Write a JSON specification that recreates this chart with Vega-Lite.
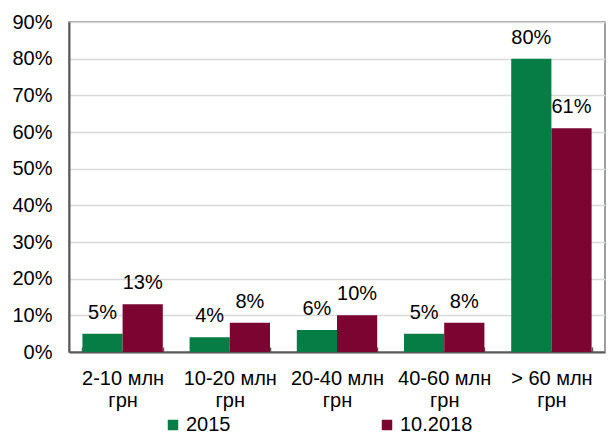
{
  "$schema": "https://vega.github.io/schema/vega-lite/v6.json",
  "width": 536,
  "height": 330,
  "autosize": {"type": "none"},
  "padding": {"left": 69, "top": 22, "right": 10, "bottom": 82},
  "background": "white",
  "config": {
    "font": "Liberation Sans",
    "view": {"stroke": "#7f7f7f", "strokeWidth": 1.5},
    "axis": {"labelFont": "Liberation Sans", "labelFontSize": 20, "labelColor": "#000000"}
  },
  "data": {
    "values": [
      {"cat": "2-10 млн грн", "series": "2015", "value": 0.05},
      {"cat": "2-10 млн грн", "series": "10.2018", "value": 0.13},
      {"cat": "10-20 млн грн", "series": "2015", "value": 0.04},
      {"cat": "10-20 млн грн", "series": "10.2018", "value": 0.08},
      {"cat": "20-40 млн грн", "series": "2015", "value": 0.06},
      {"cat": "20-40 млн грн", "series": "10.2018", "value": 0.10},
      {"cat": "40-60 млн грн", "series": "2015", "value": 0.05},
      {"cat": "40-60 млн грн", "series": "10.2018", "value": 0.08},
      {"cat": "> 60 млн грн", "series": "2015", "value": 0.80},
      {"cat": "> 60 млн грн", "series": "10.2018", "value": 0.61}
    ]
  },
  "encoding": {
    "x": {
      "field": "cat", "type": "nominal", "sort": null,
      "scale": {"paddingInner": 0.25, "paddingOuter": 0.125},
      "axis": {
        "title": null, "labelAngle": 0, "labelPadding": 21, "labelLineHeight": 22,
        "labelExpr": "indexof(datum.label + '', 'млн') >= 0 ? [replace(datum.label, ' грн', ''), 'грн'] : ''",
        "domainColor": "#595959", "domainWidth": 2,
        "tickBand": "extent", "tickSize": -5, "tickColor": "#595959", "tickWidth": 1.5
      }
    },
    "xOffset": {"field": "series", "type": "nominal", "sort": ["2015", "10.2018"], "scale": {"paddingInner": 0, "paddingOuter": 0}},
    "y": {
      "field": "value", "type": "quantitative",
      "scale": {"domain": [0, 0.9], "nice": false},
      "axis": {
        "title": null, "format": ".0%", "values": [0, 0.1, 0.2, 0.3, 0.4, 0.5, 0.6, 0.7, 0.8, 0.9],
        "domainColor": "#595959", "domainWidth": 2,
        "gridColor": "#d9d9d9", "gridWidth": 1.5,
        "ticks": false, "labelPadding": 17
      }
    }
  },
  "layer": [
    {
      "mark": {"type": "bar"},
      "encoding": {
        "color": {
          "field": "series", "type": "nominal", "sort": ["2015", "10.2018"],
          "scale": {"domain": ["2015", "10.2018"], "range": ["#077d46", "#7b0530"]},
          "legend": {
            "title": null, "orient": "none", "direction": "horizontal",
            "legendX": 94, "legendY": 393,
            "symbolType": "square", "symbolSize": 110, "symbolStrokeWidth": 0,
            "labelFontSize": 20, "labelFont": "Liberation Sans", "labelColor": "#000000",
            "labelOffset": 3, "columnPadding": 146
          }
        }
      }
    },
    {
      "mark": {"type": "text", "baseline": "alphabetic", "dy": -15, "fontSize": 20, "font": "Liberation Sans", "color": "#000000"},
      "encoding": {
        "text": {"field": "value", "type": "quantitative", "format": ".0%"}
      }
    }
  ]
}
